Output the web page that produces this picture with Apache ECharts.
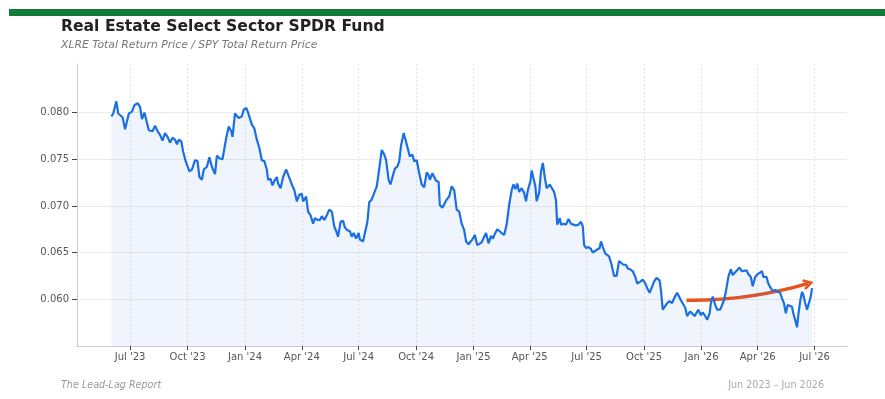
<!DOCTYPE html>
<html>
<head>
<meta charset="utf-8">
<script src="https://cdn.jsdelivr.net/npm/echarts@6/dist/echarts.min.js"></script>
<style>
  html, body { margin: 0; padding: 0; background: #fff; }
  #chart { width: 885px; height: 399px; }
</style>
</head>
<body>
<div id="chart"></div>
<script>
// ratio series, days counted from 1 Jun 2023
const startDate = [2023, 6, 1];
const dayOffset = [
  0, 3, 8, 11, 18, 22, 25, 28, 33, 37,
  42, 46, 49, 53, 57, 60, 63, 66, 70, 74,
  78, 82, 86, 90, 94, 98, 102, 105, 108, 112,
  115, 119, 122, 125, 129, 134, 138, 141, 145, 148,
  153, 157, 161, 166, 169, 173, 178, 184, 188, 192,
  194, 198, 201, 204, 209, 212, 216, 219, 225, 229,
  233, 237, 241, 245, 249, 251, 255, 258, 262, 265,
  267, 271, 275, 280, 283, 289, 293, 297, 301, 305,
  307, 312, 315, 319, 323, 326, 330, 334, 337, 341,
  345, 349, 353, 357, 360, 363, 367, 371, 374, 378,
  382, 385, 388, 392, 396, 398, 403, 406, 410, 413,
  417, 421, 425, 429, 433, 437, 440, 444, 447, 451,
  454, 458, 461, 464, 468, 471, 474, 478, 482, 485,
  489, 493, 497, 501, 505, 508, 510, 514, 517, 520,
  524, 526, 530, 533, 537, 541, 545, 549, 553, 557,
  561, 565, 568, 572, 574, 579, 582, 586, 589, 593,
  597, 600, 604, 608, 611, 614, 618, 621, 625, 629,
  633, 637, 641, 644, 647, 650, 653, 657, 661, 664,
  667, 671, 673, 676, 679, 681, 685, 688, 691, 694,
  697, 702, 705, 709, 712, 714, 718, 720, 724, 728,
  732, 736, 740, 744, 748, 752, 755, 757, 760, 764,
  768, 771, 775, 778, 782, 784, 787, 791, 793, 797,
  801, 805, 809, 813, 816, 820, 824, 827, 831, 835,
  839, 842, 847, 851, 855, 858, 862, 865, 869, 873,
  878, 880, 883, 886, 890, 894, 898, 901, 906, 909,
  912, 915, 919, 922, 927, 930, 934, 936, 940, 944,
  947, 951, 954, 958, 960, 963, 967, 970, 975, 978,
  981, 984, 988, 992, 995, 999, 1002, 1006, 1010, 1012,
  1017, 1020, 1024, 1027, 1031, 1035, 1038, 1042, 1044, 1049,
  1052, 1055, 1059, 1063, 1067, 1071, 1074, 1077, 1080, 1083,
  1086, 1090, 1092, 1095, 1098, 1100, 1103, 1106, 1108, 1111,
  1114, 1117, 1120, 1122
];
const ratio = [
  0.0796, 0.0799, 0.0812, 0.0799, 0.0795, 0.0782, 0.0783, 0.0799, 0.0801, 0.0808,
  0.0810, 0.0806, 0.0793, 0.0800, 0.0789, 0.0781, 0.0783, 0.0780, 0.0786, 0.0780,
  0.0776, 0.0770, 0.0778, 0.0774, 0.0768, 0.0773, 0.0771, 0.0766, 0.0771, 0.0769,
  0.0758, 0.0748, 0.0746, 0.0737, 0.0739, 0.0749, 0.0748, 0.0731, 0.0728, 0.0739,
  0.0742, 0.0752, 0.0742, 0.0734, 0.0754, 0.0751, 0.0750, 0.0773, 0.0785, 0.0780,
  0.0774, 0.0799, 0.0799, 0.0794, 0.0796, 0.0803, 0.0805, 0.0800, 0.0787, 0.0783,
  0.0771, 0.0762, 0.0749, 0.0748, 0.0739, 0.0728, 0.0729, 0.0722, 0.0728, 0.0731,
  0.0724, 0.0719, 0.0731, 0.0739, 0.0739, 0.0723, 0.0717, 0.0705, 0.0712, 0.0713,
  0.0705, 0.0710, 0.0694, 0.0690, 0.0681, 0.0687, 0.0685, 0.0685, 0.0689, 0.0685,
  0.0690, 0.0696, 0.0694, 0.0678, 0.0673, 0.0667, 0.0683, 0.0684, 0.0677, 0.0674,
  0.0673, 0.0667, 0.0671, 0.0665, 0.0671, 0.0664, 0.0662, 0.0661, 0.0683, 0.0704,
  0.0707, 0.0714, 0.0721, 0.0740, 0.0760, 0.0755, 0.0749, 0.0728, 0.0723, 0.0733,
  0.0740, 0.0742, 0.0748, 0.0765, 0.0778, 0.0771, 0.0771, 0.0753, 0.0755, 0.0748,
  0.0749, 0.0735, 0.0723, 0.0720, 0.0736, 0.0733, 0.0728, 0.0735, 0.0731, 0.0727,
  0.0726, 0.0701, 0.0698, 0.0696, 0.0707, 0.0710, 0.0721, 0.0717, 0.0696, 0.0694,
  0.0681, 0.0674, 0.0662, 0.0659, 0.0658, 0.0665, 0.0669, 0.0658, 0.0656, 0.0661,
  0.0667, 0.0671, 0.0660, 0.0668, 0.0665, 0.0670, 0.0675, 0.0674, 0.0671, 0.0669,
  0.0680, 0.0701, 0.0717, 0.0723, 0.0718, 0.0724, 0.0715, 0.0719, 0.0714, 0.0705,
  0.0717, 0.0726, 0.0738, 0.0740, 0.0721, 0.0705, 0.0714, 0.0737, 0.0746, 0.0731,
  0.0719, 0.0723, 0.0721, 0.0715, 0.0706, 0.0680, 0.0687, 0.0680, 0.0681, 0.0680,
  0.0686, 0.0681, 0.0680, 0.0679, 0.0680, 0.0683, 0.0678, 0.0658, 0.0655, 0.0656,
  0.0654, 0.0650, 0.0652, 0.0651, 0.0655, 0.0662, 0.0656, 0.0649, 0.0648, 0.0646,
  0.0637, 0.0625, 0.0625, 0.0641, 0.0642, 0.0637, 0.0637, 0.0633, 0.0632, 0.0630,
  0.0624, 0.0617, 0.0619, 0.0621, 0.0617, 0.0612, 0.0607, 0.0607, 0.0619, 0.0623,
  0.0620, 0.0610, 0.0589, 0.0587, 0.0596, 0.0598, 0.0596, 0.0601, 0.0607, 0.0603,
  0.0599, 0.0598, 0.0591, 0.0582, 0.0587, 0.0589, 0.0582, 0.0582, 0.0589, 0.0583,
  0.0586, 0.0582, 0.0578, 0.0585, 0.0596, 0.0603, 0.0594, 0.0589, 0.0589, 0.0587,
  0.0599, 0.0608, 0.0624, 0.0632, 0.0626, 0.0629, 0.0627, 0.0634, 0.0630, 0.0628,
  0.0631, 0.0627, 0.0624, 0.0614, 0.0624, 0.0627, 0.0625, 0.0630, 0.0624, 0.0624,
  0.0617, 0.0613, 0.0609, 0.0610, 0.0608, 0.0607, 0.0601, 0.0596, 0.0585, 0.0594,
  0.0596, 0.0592, 0.0585, 0.0578, 0.0570, 0.0583, 0.0598, 0.0608, 0.0605, 0.0596,
  0.0589, 0.0588, 0.0603, 0.0612
];

// axis ticks
const xTicks = ['2023-07', '2023-10', '2024-01', '2024-04', '2024-07', '2024-10',
  '2025-01', '2025-04', '2025-07', '2025-10', '2026-01', '2026-04', '2026-07'];
const yTicks = [0.060, 0.065, 0.070, 0.075, 0.080];
const xRange = ['2023-04-07', '2026-08-22'];
const yRange = [0.055, 0.0852];

// orange trend arrow: [day offset, ratio] start and end
const arrowStart = [921, 0.0599];
const arrowEnd = [1116, 0.0617];

const monthNames = ['Jan', 'Feb', 'Mar', 'Apr', 'May', 'Jun', 'Jul', 'Aug', 'Sep', 'Oct', 'Nov', 'Dec'];
const DAY = 86400000;
const t0 = new Date(startDate[0], startDate[1] - 1, startDate[2]).getTime();

function parseDate(s) {
  const p = s.split('-').map(Number);
  return new Date(p[0], p[1] - 1, p[2] || 1).getTime();
}

const seriesData = dayOffset.map((d, i) => [t0 + d * DAY, ratio[i]]);
const xTickValues = xTicks.map(parseDate);

const chart = echarts.init(document.getElementById('chart'), null, { renderer: 'canvas' });

chart.setOption({
  animation: false,
  backgroundColor: '#fff',
  textStyle: { fontFamily: 'DejaVu Sans' },
  grid: { left: 77, right: 38, top: 64, bottom: 53 },
  graphic: [
    { type: 'rect', shape: { x: 9, y: 9, width: 876, height: 7 }, style: { fill: '#157a38' } },
    { type: 'text', x: 61, y: 27, style: { text: 'Real Estate Select Sector SPDR Fund', font: 'bold 15.6px "DejaVu Sans"', fill: '#222', verticalAlign: 'middle' } },
    { type: 'text', x: 61, y: 45, style: { text: 'XLRE Total Return Price / SPY Total Return Price', font: 'italic 10.8px "DejaVu Sans"', fill: '#777', verticalAlign: 'middle' } },
    { type: 'text', x: 61, y: 385, style: { text: 'The Lead-Lag Report', font: 'italic 9.6px "DejaVu Sans"', fill: '#999', verticalAlign: 'middle' } },
    { type: 'text', x: 824, y: 385, style: { text: 'Jun 2023 – Jun 2026', font: '9.6px "DejaVu Sans"', fill: '#aaa', align: 'right', verticalAlign: 'middle' } }
  ],
  xAxis: {
    type: 'value',
    min: parseDate(xRange[0]),
    max: parseDate(xRange[1]),
    axisLine: { lineStyle: { color: '#ccc', width: 1 } },
    axisTick: { show: true, customValues: xTickValues, length: 4, lineStyle: { color: '#444' } },
    axisLabel: {
      customValues: xTickValues,
      color: '#555',
      fontSize: 10,
      margin: 6,
      formatter: v => {
        const d = new Date(v);
        return monthNames[d.getMonth()] + " '" + String(d.getFullYear()).slice(2);
      }
    },
    splitLine: { show: true, lineStyle: { color: '#e2e2e2', type: [2, 2], width: 1 } }
  },
  yAxis: {
    type: 'value',
    min: yRange[0],
    max: yRange[1],
    axisLine: { show: true, lineStyle: { color: '#ccc', width: 1 } },
    axisTick: { show: true, customValues: yTicks, length: 5, lineStyle: { color: '#444' } },
    axisLabel: { customValues: yTicks, color: '#555', fontSize: 10, margin: 8, formatter: v => v.toFixed(3) },
    splitLine: { show: true, lineStyle: { color: '#ebebeb', width: 1 } }
  },
  series: [
    {
      type: 'line',
      data: seriesData,
      showSymbol: false,
      lineStyle: { color: '#1b6fe4', width: 2.2 },
      areaStyle: { color: 'rgba(40, 115, 230, 0.1)' }
    },
    {
      // curved trend arrow
      type: 'lines',
      coordinateSystem: 'cartesian2d',
      silent: true,
      symbol: ['none', 'path://M5,0 L10,8 L8,9.5 L5,4 L2,9.5 L0,8 Z'],
      symbolSize: [12, 11],
      lineStyle: { color: '#e8531f', width: 3.5, opacity: 1, curveness: -0.075 },
      data: [{
        coords: [
          [t0 + arrowStart[0] * DAY, arrowStart[1]],
          [t0 + arrowEnd[0] * DAY, arrowEnd[1]]
        ]
      }]
    }
  ]
});
</script>
</body>
</html>
